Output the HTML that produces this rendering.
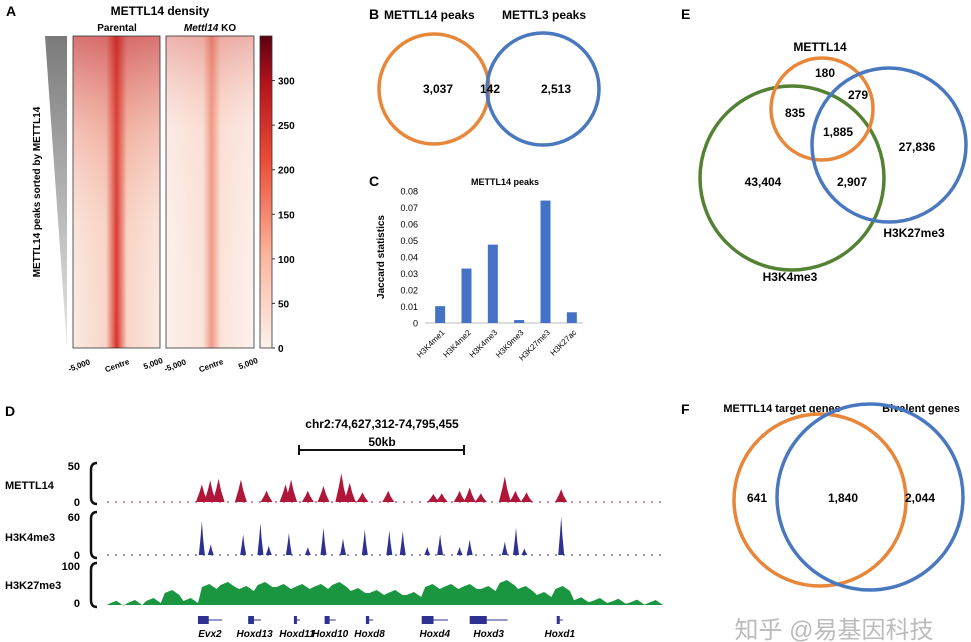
<!DOCTYPE html>
<html><head><meta charset="utf-8">
<style>
body{margin:0;background:#fff;}
#fig{position:relative;width:971px;height:642px;overflow:hidden;font-family:"Liberation Sans",Arial,sans-serif;}
svg text{font-family:"Liberation Sans",Arial,sans-serif;}
</style></head>
<body>
<div id="fig">
<svg id="svg" width="971" height="642" viewBox="0 0 971 642">
<defs>
<linearGradient id="tri" x1="0" y1="0" x2="0" y2="1"><stop offset="0" stop-color="#7a7a7a"/><stop offset="1" stop-color="#e8e8e8"/></linearGradient>
<linearGradient id="cbar" x1="0" y1="1" x2="0" y2="0"><stop offset="0" stop-color="#fdf1ec"/><stop offset="0.3" stop-color="#fbb59c"/><stop offset="0.6" stop-color="#ec4c36"/><stop offset="0.85" stop-color="#b5121b"/><stop offset="1" stop-color="#5e0010"/></linearGradient>
<linearGradient id="hmP" x1="0" y1="0" x2="1" y2="0"><stop offset="0" stop-color="#fbe9e0"/><stop offset="0.38" stop-color="#f8d6c8"/><stop offset="0.5" stop-color="#d8332a"/><stop offset="0.62" stop-color="#f8d6c8"/><stop offset="1" stop-color="#fbe9e0"/></linearGradient>
<linearGradient id="hmK" x1="0" y1="0" x2="1" y2="0"><stop offset="0" stop-color="#fcf1ec"/><stop offset="0.42" stop-color="#fbe3d9"/><stop offset="0.52" stop-color="#f09a84"/><stop offset="0.62" stop-color="#fbe3d9"/><stop offset="1" stop-color="#fcf1ec"/></linearGradient>
<linearGradient id="topP" x1="0" y1="0" x2="0" y2="1"><stop offset="0" stop-color="#c0242a" stop-opacity="0.6"/><stop offset="0.3" stop-color="#e0604e" stop-opacity="0.3"/><stop offset="0.6" stop-color="#f2a08a" stop-opacity="0.08"/><stop offset="1" stop-color="#fff" stop-opacity="0"/></linearGradient>
<linearGradient id="topK" x1="0" y1="0" x2="0" y2="1"><stop offset="0" stop-color="#d0403a" stop-opacity="0.35"/><stop offset="0.3" stop-color="#f0a090" stop-opacity="0.08"/><stop offset="1" stop-color="#fff" stop-opacity="0"/></linearGradient>
</defs>

<g>
<text x="6" y="16" font-size="14" font-weight="bold">A</text>
<text x="160" y="15" font-size="12" font-weight="bold" text-anchor="middle">METTL14 density</text>
<text x="117" y="31" font-size="10" font-weight="bold" text-anchor="middle">Parental</text>
<text x="210" y="31" font-size="10" font-weight="bold" text-anchor="middle"><tspan font-style="italic">Mettl14</tspan> KO</text>
<polygon points="45,36 67,36 67,348" fill="url(#tri)"/>
<text transform="translate(40,192) rotate(-90)" font-size="10" font-weight="bold" text-anchor="middle">METTL14 peaks sorted by METTL14</text>
<rect x="73" y="36" width="87" height="312" fill="url(#hmP)"/>
<rect x="73" y="36" width="87" height="312" fill="url(#topP)"/>
<rect x="166" y="36" width="88" height="312" fill="url(#hmK)"/>
<rect x="166" y="36" width="88" height="312" fill="url(#topK)"/>
<rect x="73" y="36" width="87" height="312" fill="none" stroke="#333" stroke-width="0.8"/>
<rect x="166" y="36" width="88" height="312" fill="none" stroke="#333" stroke-width="0.8"/>
<rect x="260" y="36" width="12" height="312" fill="url(#cbar)" stroke="#333" stroke-width="0.8"/>
<g id="cbticks" font-size="10" font-weight="bold"></g>
<g font-size="8" font-weight="bold">
<text transform="translate(80,368) rotate(-20)" text-anchor="middle">-5,000</text>
<text transform="translate(118,368) rotate(-20)" text-anchor="middle">Centre</text>
<text transform="translate(154,366) rotate(-20)" text-anchor="middle">5,000</text>
<text transform="translate(176,368) rotate(-20)" text-anchor="middle">-5,000</text>
<text transform="translate(212,368) rotate(-20)" text-anchor="middle">Centre</text>
<text transform="translate(249,366) rotate(-20)" text-anchor="middle">5,000</text>
</g>
</g>

<g>
<text x="369" y="19" font-size="14" font-weight="bold">B</text>
<text x="384" y="19" font-size="12" font-weight="bold">METTL14 peaks</text>
<text x="502" y="19" font-size="12" font-weight="bold">METTL3 peaks</text>
<circle cx="434" cy="89" r="55" fill="none" stroke="#e8863a" stroke-width="3.5"/>
<circle cx="543" cy="89" r="56" fill="none" stroke="#4a78bf" stroke-width="3.5"/>
<g font-size="12" font-weight="bold" text-anchor="middle">
<text x="438" y="93">3,037</text><text x="490" y="93">142</text><text x="556" y="93">2,513</text></g>
</g>

<g id="panelC">
<text x="369" y="186" font-size="14" font-weight="bold">C</text>
<text x="505" y="185" font-size="9" font-weight="bold" text-anchor="middle">METTL14 peaks</text>
<text transform="translate(384,257) rotate(-90)" font-size="10" font-weight="bold" text-anchor="middle">Jaccard statistics</text>
</g>

<g>
<text x="681" y="19" font-size="14" font-weight="bold">E</text>
<circle cx="792" cy="178" r="92" fill="none" stroke="#548235" stroke-width="3.5"/>
<circle cx="822" cy="109" r="51" fill="none" stroke="#e8863a" stroke-width="3.5"/>
<circle cx="889" cy="145" r="77" fill="none" stroke="#4a78bf" stroke-width="3.5"/>
<g font-size="12" font-weight="bold" text-anchor="middle">
<text x="820" y="51">METTL14</text><text x="825" y="77">180</text><text x="858" y="99">279</text>
<text x="795" y="117">835</text><text x="838" y="136">1,885</text><text x="917" y="151">27,836</text>
<text x="763" y="186">43,404</text><text x="852" y="186">2,907</text>
<text x="914" y="237">H3K27me3</text><text x="790" y="281">H3K4me3</text></g>
</g>

<g>
<text x="681" y="414" font-size="14" font-weight="bold">F</text>
<text x="782" y="412" font-size="11" font-weight="bold" text-anchor="middle">METTL14 target genes</text>
<text x="921" y="412" font-size="11" font-weight="bold" text-anchor="middle">Bivalent genes</text>
<circle cx="820" cy="500" r="86" fill="none" stroke="#e8863a" stroke-width="3.5"/>
<circle cx="870" cy="497" r="93" fill="none" stroke="#4a78bf" stroke-width="3.5"/>
<g font-size="12" font-weight="bold" text-anchor="middle">
<text x="757" y="502">641</text><text x="843" y="502">1,840</text><text x="920" y="502">2,044</text></g>
<text x="834" y="638" font-size="24" fill="#bbb" text-anchor="middle" font-family="'Liberation Sans','Noto Sans CJK SC',sans-serif">知乎 @易基因科技</text>
</g>

<g id="panelD">
<text x="5" y="416" font-size="14" font-weight="bold">D</text>
<text x="382" y="428" font-size="12" font-weight="bold" text-anchor="middle">chr2:74,627,312-74,795,455</text>
<text x="382" y="446" font-size="12" font-weight="bold" text-anchor="middle">50kb</text>
<g stroke="#111" stroke-width="2"><line x1="299" y1="450" x2="464" y2="450"/><line x1="299" y1="445" x2="299" y2="455"/><line x1="464" y1="445" x2="464" y2="455"/></g>
<g font-size="11" font-weight="bold">
<text x="5" y="489">METTL14</text><text x="5" y="541">H3K4me3</text><text x="5" y="589">H3K27me3</text>
<text x="80" y="470" text-anchor="end">50</text><text x="80" y="506" text-anchor="end">0</text>
<text x="80" y="521" text-anchor="end">60</text><text x="80" y="559" text-anchor="end">0</text>
<text x="80" y="570" text-anchor="end">100</text><text x="80" y="607" text-anchor="end">0</text></g>
<g fill="none" stroke="#111" stroke-width="2.5">
<path d="M97,463 Q91,463 91,470 L91,497 Q91,504 97,504"/>
<path d="M97,512 Q91,512 91,519 L91,551 Q91,558 97,558"/>
<path d="M97,563 Q91,563 91,570 L91,600 Q91,607 97,607"/></g>
</g>
</svg>
</div>
<script>
const barCategories = ["H3K4me1","H3K4me2","H3K4me3","H3K9me3","H3K27me3","H3K27ac"];
const barValues = [0.0102,0.033,0.0475,0.0018,0.0742,0.0065];
const barTicks = [0,0.01,0.02,0.03,0.04,0.05,0.06,0.07,0.08];
const barTickLabels = ["0","0.01","0.02","0.03","0.04","0.05","0.06","0.07","0.08"];
const cbTicks = [0,50,100,150,200,250,300];
const trackDomain = [0,1];
const mettl14PeakPos = [0.17,0.185,0.2,0.24,0.286,0.32,0.33,0.36,0.388,0.42,0.435,0.458,0.504,0.585,0.6,0.632,0.65,0.67,0.713,0.732,0.752,0.814];
const mettl14PeakVal = [22,27,29,28,14,22,28,14,20,36,24,12,14,10,11,14,18,11,32,14,12,16];
const h3k4PeakPos = [0.17,0.186,0.244,0.275,0.29,0.326,0.36,0.388,0.423,0.462,0.506,0.53,0.574,0.597,0.632,0.65,0.713,0.733,0.748,0.814];
const h3k4PeakVal = [51,16,31,48,14,33,12,41,25,38,37,36,12,31,12,23,20,41,10,58];
const h3k27Bins = [3,5,10,30,10,45,50,40,50,45,45,45,50,35,30,30,25,45,45,45,40,55,40,25,40,12,10,8,6,5];
const geneNames = ["Evx2","Hoxd13","Hoxd11","Hoxd10","Hoxd8","Hoxd4","Hoxd3","Hoxd1"];
const geneStart = [0.163,0.253,0.335,0.39,0.464,0.564,0.65,0.806];
const geneEnd = [0.206,0.276,0.346,0.41,0.477,0.611,0.718,0.817];

const NS="http://www.w3.org/2000/svg";
function mk(tag,attrs,parent){const e=document.createElementNS(NS,tag);for(const k in attrs)e.setAttribute(k,attrs[k]);parent.appendChild(e);return e;}

const cbY=v=>348-(v/350)*312;
const cbg=document.getElementById('cbticks');
cbTicks.forEach(v=>{
  const l=mk('line',{x1:272,x2:275,y1:cbY(v),y2:cbY(v),stroke:'#333'},cbg);
  
  
  const t=mk('text',{x:278,y:cbY(v)+4},cbg);t.textContent=v;
  
  
});

const C=document.getElementById('panelC');
const cX0=425,cX1=583,cY0=323,cY1=191;
const yC=v=>cY0-(v/0.08)*(cY0-cY1);
const bandW=(cX1-cX0)/barCategories.length;
const xC=i=>cX0+bandW*(i+0.5)+2;
barTicks.forEach((v,i)=>{
  const t=mk('text',{x:418,y:yC(v)+3.5,'font-size':9,'text-anchor':'end'},C);t.textContent=barTickLabels[i];
  
  
});
mk('line',{x1:cX0,x2:cX1,y1:cY0,y2:cY0,stroke:'#bbb'},C);
barCategories.forEach((c,i)=>{
  const r=mk('rect',{x:xC(i)-5,y:yC(barValues[i]),width:10,height:cY0-yC(barValues[i]),fill:'#4472c4'},C);
  
  
  const t=mk('text',{transform:`translate(${xC(i)+5},${cY0+10}) rotate(-45)`,'font-size':8,'text-anchor':'end'},C);t.textContent=c;
  
  
});

const D=document.getElementById('panelD');
const tx0=107,tx1=665;
const xD=f=>tx0+(f-trackDomain[0])/(trackDomain[1]-trackDomain[0])*(tx1-tx0);
function peaks(pos,val,base,scaleMax,hpx,halfW,color,name){
  const g=mk('g',{},D);
  
  
  mk('line',{x1:tx0,x2:tx1,y1:base,y2:base,stroke:color,'stroke-width':1,'stroke-dasharray':'2,6'},g);
  pos.forEach((p,i)=>{
    const x=xD(p),h=val[i]/scaleMax*hpx;
    const pk=mk('polygon',{points:`${x-halfW},${base} ${x-halfW*0.4},${base-h*0.55} ${x},${base-h} ${x+halfW*0.4},${base-h*0.5} ${x+halfW},${base}`,fill:color},g);
    
    
  });
}
peaks(mettl14PeakPos,mettl14PeakVal,502,50,40,6,'#b0163a','mettl14-track');
peaks(h3k4PeakPos,h3k4PeakVal,555,60,40,3,'#2e3192','h3k4me3-track');
(function(){
  const base=605,hpx=40,n=h3k27Bins.length;
  let pts=`${tx0},${base} `;
  h3k27Bins.forEach((v,i)=>{const x0=xD(i/n),x1=xD((i+1)/n),y=base-v/100*hpx;pts+=`${x0+2},${y} ${(x0+x1)/2},${y-3} ${x1-2},${y+2} `;});
  pts+=`${tx1},${base}`;
  const a=mk('polygon',{points:pts,fill:'#1a9641'},D);
  
  
})();
geneNames.forEach((g,i)=>{
  const x0=xD(geneStart[i]),x1=xD(geneEnd[i]);
  mk('line',{x1:x0,x2:x1,y1:620,y2:620,stroke:'#2e3192','stroke-width':1},D);
  const r=mk('rect',{x:x0,y:616,width:Math.max(3,(x1-x0)*0.45),height:8,fill:'#2e3192'},D);
  
  
  const t=mk('text',{x:(x0+x1)/2,y:637,'font-size':10,'font-weight':'bold','font-style':'italic','text-anchor':'middle'},D);t.textContent=g;
  
  
});
</script>
</body></html>
